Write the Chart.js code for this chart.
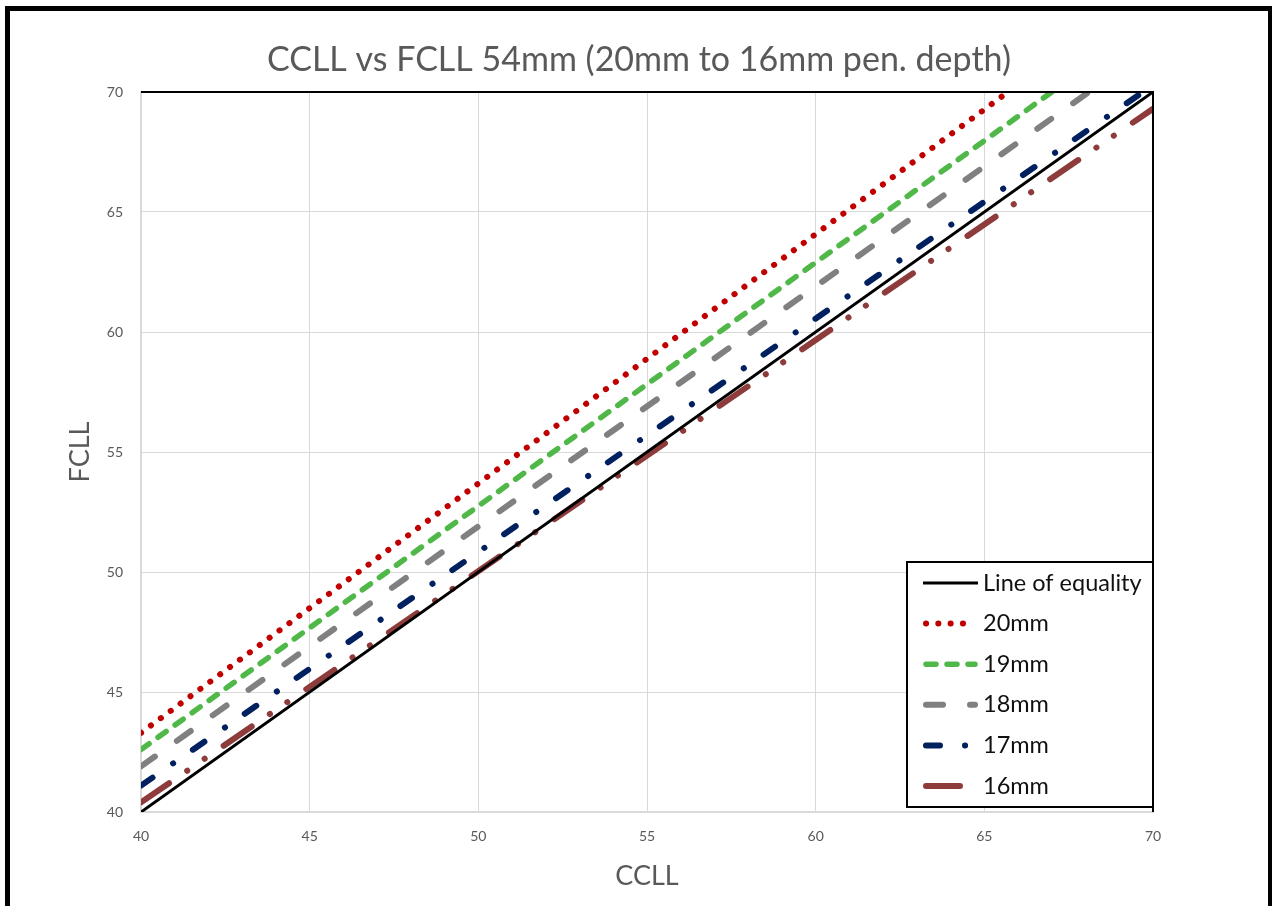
<!DOCTYPE html>
<html>
<head>
<meta charset="utf-8">
<title>CCLL vs FCLL 54mm</title>
<script src="https://cdn.jsdelivr.net/npm/chart.js@4.4.1/dist/chart.umd.min.js"></script>
<style>
  html, body { margin: 0; padding: 0; background: #fff; }
  #wrap { position: relative; width: 1272px; height: 906px; overflow: hidden; }
  #grafico { position: absolute; left: 0; top: 0; }
  #marco {
    position: absolute; left: 5px; top: 6px; width: 1258px; height: 920px;
    border: 5px solid #000; border-bottom: none; pointer-events: none;
  }
</style>
</head>
<body>
<div id="wrap">
  <canvas id="grafico" width="1272" height="906"></canvas>
  <div id="marco"></div>
</div>
<script>
// CCLL (x) endpoints and FCLL (y) values for each penetration depth
const equalityX = [40, 70];
const equalityY = [40, 70];
const pen20X = [40, 65.7];
const pen20Y = [43.3, 70];
const pen19X = [40, 67.0];
const pen19Y = [42.6, 70];
const pen18X = [40, 68.1];
const pen18Y = [41.9, 70];
const pen17X = [40, 69.7];
const pen17Y = [41.1, 70];
const pen16X = [40, 70];
const pen16Y = [40.4, 69.3];

const axisTicks = [40, 45, 50, 55, 60, 65, 70];

const toPoints = (xs, ys) => xs.map((x, i) => ({ x: x, y: ys[i] }));

const textGrey = '#595959';
const fontName = 'Lato';

const datasets = [
    { label: 'Line of equality', data: toPoints(equalityX, equalityY), borderColor: '#000000', borderWidth: 3, borderDash: [] },
    { label: '20mm', data: toPoints(pen20X, pen20Y), borderColor: '#C00000', borderWidth: 6, borderDash: [0.1, 12.2] },
    { label: '19mm', data: toPoints(pen19X, pen19Y), borderColor: '#50B848', borderWidth: 5.5, borderDash: [10, 11] },
    { label: '18mm', data: toPoints(pen18X, pen18Y), borderColor: '#808080', borderWidth: 6, borderDash: [17, 27] },
    { label: '17mm', data: toPoints(pen17X, pen17Y), borderColor: '#002060', borderWidth: 6, borderDash: [14, 25, 0.1, 24] },
    { label: '16mm', data: toPoints(pen16X, pen16Y), borderColor: '#8E3B3B', borderWidth: 6, borderDash: [34, 22, 0.1, 21, 0.1, 23] }
];
datasets.forEach(ds => {
    ds.borderCapStyle = ds.borderDash.length ? 'round' : 'butt';
    ds.pointRadius = 0;
    ds.fill = false;
    ds.tension = 0;
});

// title text above the plot
const tituloPlugin = {
    id: 'titulo',
    afterDraw(chart) {
        const ctx = chart.ctx;
        ctx.save();
        ctx.fillStyle = textGrey;
        ctx.font = '34px ' + fontName;
        ctx.textAlign = 'center';
        ctx.textBaseline = 'middle';
        ctx.fillText('CCLL vs FCLL 54mm (20mm to 16mm pen. depth)', 639, 60);
        ctx.restore();
    }
};

// black top/right edge of the plot area
const bordePlugin = {
    id: 'borde',
    afterDatasetsDraw(chart) {
        const { ctx, chartArea: a } = chart;
        ctx.save();
        ctx.strokeStyle = '#000';
        ctx.lineWidth = 2;
        ctx.beginPath();
        ctx.moveTo(a.left, a.top);
        ctx.lineTo(a.right, a.top);
        ctx.lineTo(a.right, a.bottom);
        ctx.stroke();
        ctx.restore();
    }
};

// boxed legend in the lower right corner of the plot
const leyendaPlugin = {
    id: 'leyenda',
    afterDraw(chart) {
        const { ctx, chartArea: a } = chart;
        const box = { x: 907, y: 562, w: a.right - 907, h: 245 };
        ctx.save();
        ctx.fillStyle = '#fff';
        ctx.fillRect(box.x, box.y, box.w, box.h);
        ctx.strokeStyle = '#000';
        ctx.lineWidth = 2;
        ctx.strokeRect(box.x, box.y, box.w, box.h);
        chart.data.datasets.forEach((ds, i) => {
            const y = 583 + i * 40.6;
            ctx.beginPath();
            ctx.strokeStyle = ds.borderColor;
            ctx.lineWidth = ds.borderWidth;
            ctx.lineCap = ds.borderCapStyle;
            ctx.setLineDash(ds.borderDash);
            const x0 = ds.borderDash.length ? 926 : 923;
            const x1 = ds.borderDash.length ? 975 : 978;
            ctx.moveTo(x0, y);
            ctx.lineTo(x1, y);
            ctx.stroke();
            ctx.setLineDash([]);
            ctx.fillStyle = '#111';
            ctx.font = '23.5px ' + fontName;
            ctx.textAlign = 'left';
            ctx.textBaseline = 'middle';
            ctx.fillText(ds.label, 983, y);
        });
        ctx.restore();
    }
};

const ctx = document.getElementById('grafico').getContext('2d');
new Chart(ctx, {
    type: 'line',
    data: { datasets: datasets },
    options: {
        responsive: false,
        animation: false,
        layout: { padding: { top: 92, right: 119, left: 0, bottom: 0 } },
        plugins: {
            legend: { display: false },
            title: { display: false },
            tooltip: { enabled: false }
        },
        scales: {
            x: {
                type: 'linear',
                min: 40,
                max: 70,
                afterBuildTicks: s => { s.ticks = axisTicks.map(v => ({ value: v })); },
                afterFit: s => { s.height = 94; },
                grid: { color: '#D9D9D9', lineWidth: 1, drawTicks: false },
                border: { color: '#D9D9D9', width: 2 },
                ticks: { color: textGrey, font: { family: fontName, size: 14 }, padding: 16 },
                title: {
                    display: true, text: 'CCLL', color: textGrey,
                    font: { family: fontName, size: 27 }, padding: { top: 0, bottom: 14 }
                }
            },
            y: {
                type: 'linear',
                min: 40,
                max: 70,
                afterBuildTicks: s => { s.ticks = axisTicks.map(v => ({ value: v })); },
                afterFit: s => { s.width = 141; },
                grid: { color: '#D9D9D9', lineWidth: 1, drawTicks: false },
                border: { color: '#D9D9D9', width: 2 },
                ticks: { color: textGrey, font: { family: fontName, size: 14 }, padding: 18 },
                title: {
                    display: true, text: 'FCLL', color: textGrey,
                    font: { family: fontName, size: 27 }, padding: { top: 64, bottom: 0 }
                }
            }
        }
    },
    plugins: [tituloPlugin, bordePlugin, leyendaPlugin]
});
</script>
</body>
</html>
